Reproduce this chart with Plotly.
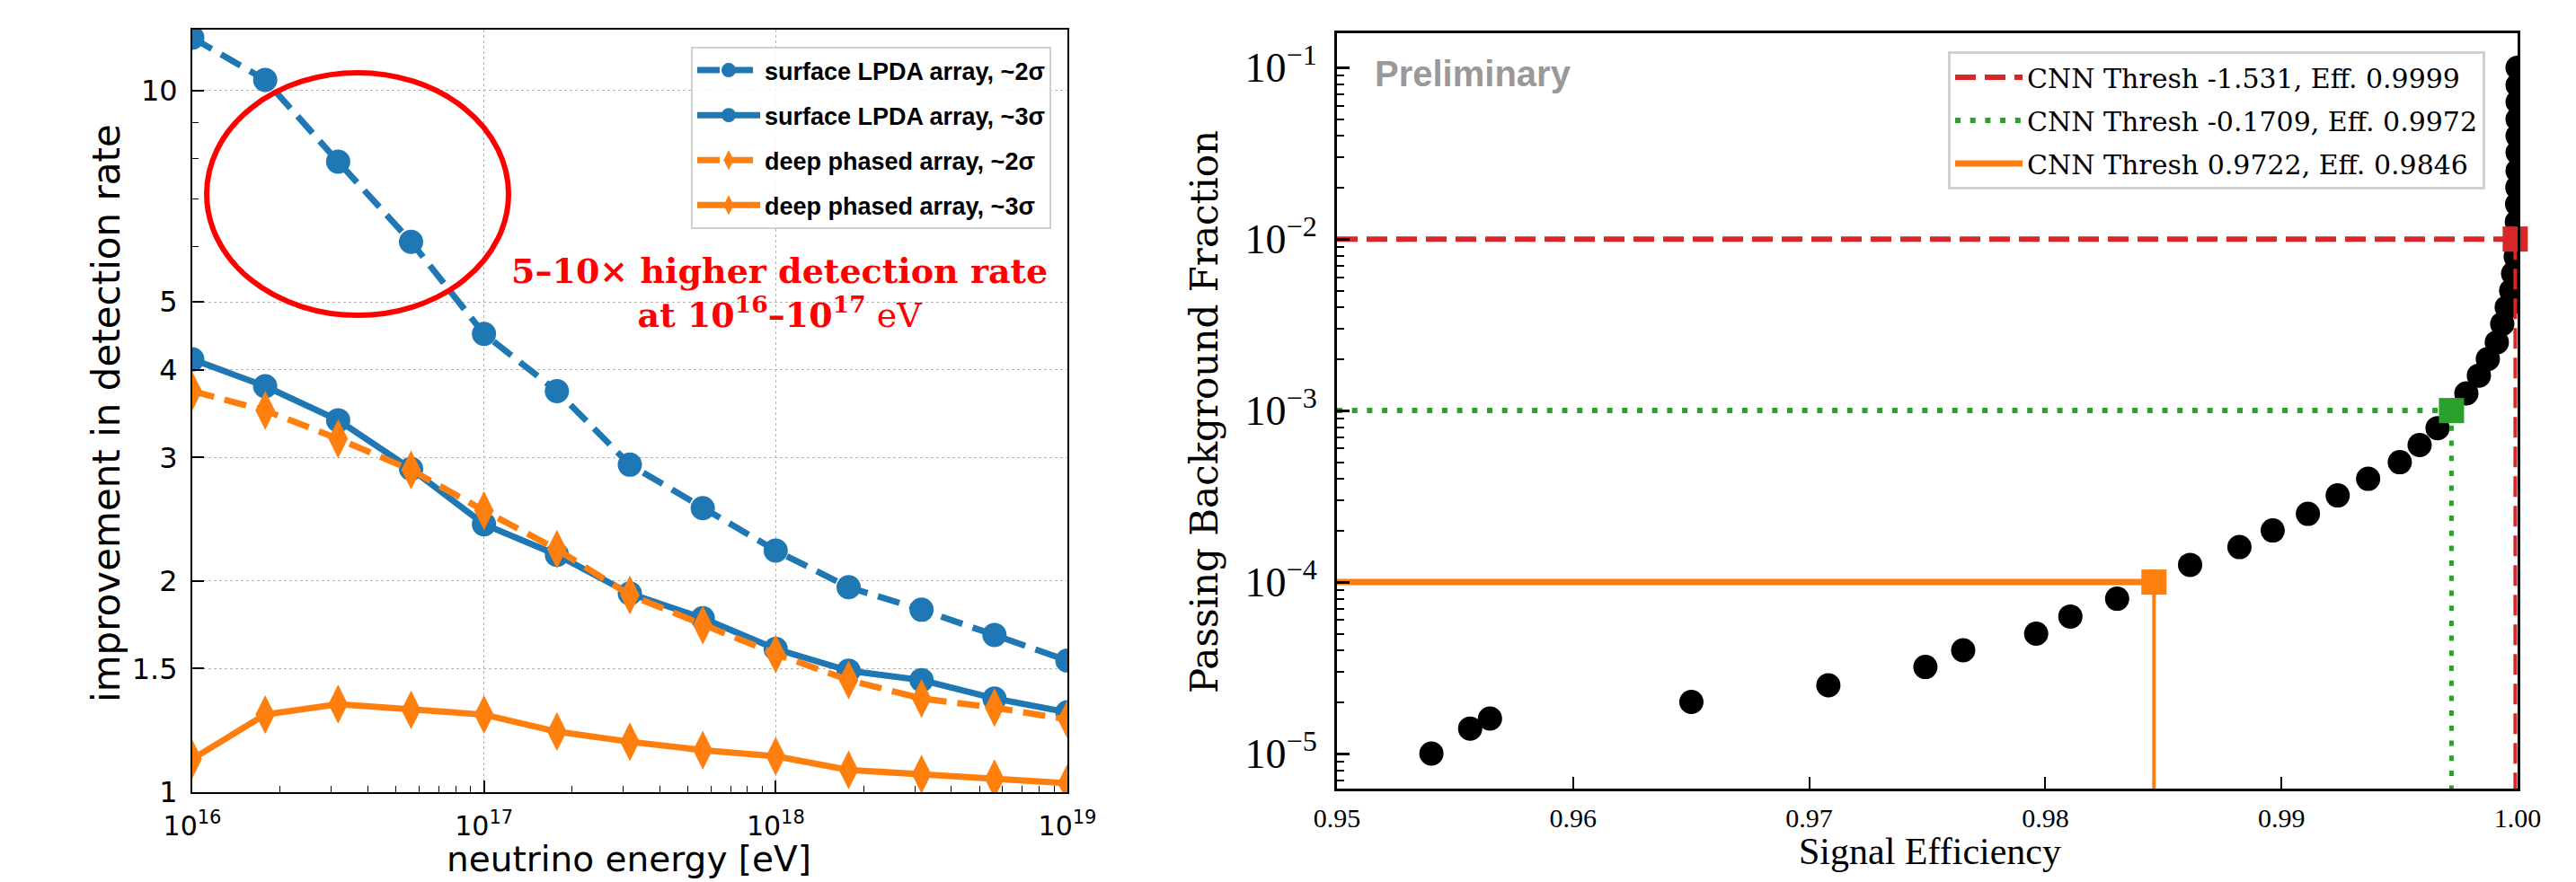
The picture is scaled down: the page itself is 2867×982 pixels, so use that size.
import plotly.graph_objects as go

W, H = 2867, 982

# ---------------- left panel data ----------------
energy_eV = [1e16, 1.778e16, 3.162e16, 5.623e16, 1e17, 1.778e17, 3.162e17, 5.623e17,
             1e18, 1.778e18, 3.162e18, 5.623e18, 1e19]
energy_ticks = [1e16, 1e17, 1e18, 1e19]
energy_ticktext = ["10<sup>16</sup>", "10<sup>17</sup>", "10<sup>18</sup>", "10<sup>19</sup>"]
improve_ticks = [1, 1.5, 2, 3, 4, 5, 10]
improve_ticktext = ["1", "1.5", "2", "3", "4", "5", "10"]

surface_2sigma = [11.9, 10.36, 7.92, 6.09, 4.50, 3.73, 2.93, 2.54, 2.21, 1.96, 1.82, 1.675, 1.54]
surface_3sigma = [4.14, 3.79, 3.39, 2.89, 2.41, 2.18, 1.92, 1.77, 1.60, 1.49, 1.445, 1.36, 1.30]
deep_2sigma = [3.73, 3.50, 3.19, 2.88, 2.52, 2.22, 1.91, 1.73, 1.574, 1.445, 1.36, 1.32, 1.27]
deep_3sigma = [1.115, 1.29, 1.335, 1.31, 1.29, 1.22, 1.18, 1.148, 1.125, 1.076, 1.061, 1.045, 1.030]

# ---------------- right panel data ----------------
signal_eff = [0.95400, 0.95564, 0.95648, 0.96501, 0.97081, 0.97492, 0.97652, 0.97961,
              0.98106, 0.98304, 0.98460, 0.98613, 0.98822, 0.98963, 0.99112, 0.99238,
              0.99367, 0.99501, 0.99585, 0.99661, 0.99720, 0.99783, 0.99836, 0.99874,
              0.99912, 0.99935, 0.99954, 0.99973, 0.99981, 0.99992, 0.99990, 0.99997,
              0.99998, 0.99999, 1.0, 1.0, 1.0, 1.0, 1.0, 1.0, 1.0]
bkg_frac = [1.0e-5, 1.4e-5, 1.6e-5, 2.0e-5, 2.5e-5, 3.2e-5, 4.0e-5, 5.0e-5,
            6.3e-5, 8.0e-5, 1.0e-4, 1.26e-4, 1.6e-4, 2.0e-4, 2.5e-4, 3.2e-4,
            4.0e-4, 5.0e-4, 6.3e-4, 7.9e-4, 1.0e-3, 1.26e-3, 1.6e-3, 2.0e-3,
            2.5e-3, 3.2e-3, 4.0e-3, 5.0e-3, 6.3e-3, 7.9e-3, 1.0e-2, 1.26e-2,
            1.6e-2, 2.0e-2, 2.5e-2, 3.2e-2, 4.0e-2, 5.0e-2, 6.3e-2, 7.9e-2, 1.0e-1]

thresh_labels = ["CNN Thresh -1.531, Eff. 0.9999",
                 "CNN Thresh -0.1709, Eff. 0.9972",
                 "CNN Thresh 0.9722, Eff. 0.9846"]
thresh_eff = [0.9999, 0.9972, 0.9846]
thresh_frac = [1e-2, 1e-3, 1e-4]

eff_ticks = [0.95, 0.96, 0.97, 0.98, 0.99, 1.00]
eff_ticktext = ["0.95", "0.96", "0.97", "0.98", "0.99", "1.00"]
frac_ticks = [1e-5, 1e-4, 1e-3, 1e-2, 1e-1]
frac_ticktext = ["10<sup>−5</sup>", "10<sup>−4</sup>", "10<sup>−3</sup>", "10<sup>−2</sup>", "10<sup>−1</sup>"]

BLUE = "#1f77b4"
ORANGE = "#ff7f0e"
RED = "#d62728"
GREEN = "#2ca02c"

fig = go.Figure()

# ---------- left panel traces ----------
left_series = [
    ("surface LPDA array, ~2σ", surface_2sigma, BLUE, "25px,12px", "circle", 27),
    ("surface LPDA array, ~3σ", surface_3sigma, BLUE, "solid", "circle", 27),
    ("deep phased array, ~2σ", deep_2sigma, ORANGE, "25px,12px", "diamond-tall", 31),
    ("deep phased array, ~3σ", deep_3sigma, ORANGE, "solid", "diamond-tall", 31),
]
for i, (name, vals, col, dash, sym, msize) in enumerate(left_series):
    fig.add_trace(go.Scatter(
        x=energy_eV, y=vals, name=name, mode="lines+markers",
        line=dict(color=col, width=7, dash=dash),
        marker=dict(color=col, symbol=sym, size=msize, line=dict(width=0)),
        xaxis="x", yaxis="y", legend="legend", legendgroup=f"l{i}",
    ))

# ---------- right panel traces ----------
fig.add_trace(go.Scatter(
    x=signal_eff, y=bkg_frac, mode="markers", showlegend=False,
    marker=dict(color="black", size=27, line=dict(width=0)),
    xaxis="x2", yaxis="y2",
))

y_bottom = 10 ** -5.204
styles = [(RED, "23px,10px", 6, 4), (GREEN, "6px,10.7px", 6, 5), (ORANGE, "solid", 7, 4)]
for i, (lab, ef, fr) in enumerate(zip(thresh_labels, thresh_eff, thresh_frac)):
    col, dash, wh, wv = styles[i]
    fig.add_trace(go.Scatter(
        x=[0.95, ef], y=[fr, fr], mode="lines", name=lab,
        line=dict(color=col, width=wh, dash=dash),
        xaxis="x2", yaxis="y2", legend="legend2", legendgroup=f"r{i}",
    ))
    fig.add_trace(go.Scatter(
        x=[ef, ef], y=[fr, y_bottom], mode="lines", showlegend=False,
        line=dict(color=col, width=wv, dash=dash),
        xaxis="x2", yaxis="y2", legendgroup=f"r{i}",
    ))
    fig.add_trace(go.Scatter(
        x=[ef], y=[fr], mode="markers", showlegend=False,
        marker=dict(color=col, symbol="square", size=28, line=dict(width=0)),
        xaxis="x2", yaxis="y2", legendgroup=f"r{i}", cliponaxis=False,
    ))

def px_x(p):
    return p / W

def px_y(p):
    return 1 - p / H

minor_energy = [m * 10 ** e for e in (16, 17, 18) for m in range(2, 10)]
minor_frac = [m * 10.0 ** e for e in (-6, -5, -4, -3, -2, -1) for m in range(2, 10)]

# left axes pixel box
LX0, LX1, LY0, LY1 = 214, 1188, 33, 882

fig.update_layout(
    width=W, height=H,
    margin=dict(l=0, r=0, t=0, b=0, autoexpand=False),
    paper_bgcolor="white", plot_bgcolor="white",
    font=dict(family="DejaVu Sans", color="black"),
    xaxis=dict(
        domain=[px_x(LX0), px_x(LX1)], anchor="y", type="log", range=[16, 19],
        tickvals=energy_ticks, ticktext=energy_ticktext,
        ticks="inside", ticklen=13, tickwidth=1.5, tickcolor="black",
        showline=True, linecolor="black", linewidth=2, mirror=True,
        showgrid=True, gridcolor="#b5b5b5", griddash="dot", gridwidth=1,
        zeroline=False, tickfont=dict(family="DejaVu Sans", size=30, color="black"),
        ticklabelstandoff=10, automargin=False,
        minor=dict(tickvals=minor_energy, ticks="inside", ticklen=7, tickwidth=1.2,
                   tickcolor="black", showgrid=False),
    ),
    yaxis=dict(
        domain=[px_y(LY1), px_y(LY0)], anchor="x", type="log", range=[0, 1.087],
        tickvals=improve_ticks, ticktext=improve_ticktext,
        ticks="inside", ticklen=13, tickwidth=1.5, tickcolor="black",
        showline=True, linecolor="black", linewidth=2, mirror=True,
        showgrid=True, gridcolor="#b5b5b5", griddash="dot", gridwidth=1,
        zeroline=False, tickfont=dict(family="DejaVu Sans", size=32, color="black"),
        ticklabelstandoff=8, automargin=False,
        minor=dict(tickvals=[6, 7, 8, 9], ticks="inside", ticklen=7, tickwidth=1.2,
                   tickcolor="black", showgrid=False),
    ),
    xaxis2=dict(
        domain=[px_x(1488), px_x(2802)], anchor="y2", range=[0.95, 1.0],
        tickvals=eff_ticks, ticktext=eff_ticktext,
        ticks="inside", ticklen=13, tickwidth=2, tickcolor="black",
        showline=True, linecolor="black", linewidth=3, mirror=True,
        showgrid=False, zeroline=False, automargin=False,
        tickfont=dict(family="Liberation Serif", size=30, color="black"),
        ticklabelstandoff=4,
    ),
    yaxis2=dict(
        domain=[px_y(878), px_y(37)], anchor="x2", type="log", range=[-5.204, -0.80],
        tickvals=frac_ticks, ticktext=frac_ticktext,
        ticks="inside", ticklen=14, tickwidth=2.5, tickcolor="black",
        showline=True, linecolor="black", linewidth=3, mirror=True,
        showgrid=False, zeroline=False, automargin=False,
        tickfont=dict(family="Liberation Serif", size=46, color="black"),
        ticklabelstandoff=10,
        minor=dict(tickvals=minor_frac, ticks="inside", ticklen=8, tickwidth=2,
                   tickcolor="black", showgrid=False),
    ),
    legend=dict(
        x=px_x(1170), xanchor="right", y=px_y(52), yanchor="top",
        bgcolor="rgba(255,255,255,0.85)", bordercolor="#d0d0d0", borderwidth=2,
        font=dict(family="Liberation Sans", size=27, color="black", weight="bold"),
        itemwidth=70, tracegroupgap=12, traceorder="grouped",
    ),
    legend2=dict(
        x=px_x(2766), xanchor="right", y=px_y(57), yanchor="top",
        bgcolor="rgba(255,255,255,0.85)", bordercolor="#d0d0d0", borderwidth=3,
        font=dict(family="DejaVu Serif", size=30, color="black"),
        itemwidth=75, tracegroupgap=6, traceorder="grouped",
    ),
    shapes=[dict(
        type="circle", xref="x domain", yref="y domain",
        x0=(230 - LX0) / (LX1 - LX0), x1=(566 - LX0) / (LX1 - LX0),
        y0=(LY1 - 351) / (LY1 - LY0), y1=(LY1 - 81) / (LY1 - LY0),
        line=dict(color="red", width=6), layer="above",
    )],
    annotations=[
        dict(text="improvement in detection rate", x=px_x(118), y=px_y(460),
             xref="paper", yref="paper", textangle=-90, showarrow=False,
             xanchor="center", yanchor="middle",
             font=dict(family="DejaVu Sans", size=42, color="black")),
        dict(text="neutrino energy [eV]", x=px_x(700), y=px_y(956),
             xref="paper", yref="paper", showarrow=False,
             xanchor="center", yanchor="middle",
             font=dict(family="DejaVu Sans", size=39, color="black")),
        dict(text="<b>5–10× higher detection rate</b><br><b>at 10<sup>16</sup>–10<sup>17</sup></b> eV",
             x=px_x(867), y=px_y(326), xref="paper", yref="paper", showarrow=False,
             xanchor="center", yanchor="middle", align="center",
             font=dict(family="DejaVu Serif", size=38, color="red")),
        dict(text="Signal Efficiency", x=px_x(2148), y=px_y(948),
             xref="paper", yref="paper", showarrow=False,
             xanchor="center", yanchor="middle",
             font=dict(family="Liberation Serif", size=42, color="black")),
        dict(text="Passing Background Fraction", x=px_x(1341), y=px_y(459),
             xref="paper", yref="paper", textangle=-90, showarrow=False,
             xanchor="center", yanchor="middle",
             font=dict(family="DejaVu Serif", size=42, color="black")),
        dict(text="<b>Preliminary</b>", x=px_x(1528), y=px_y(82),
             xref="paper", yref="paper", showarrow=False,
             xanchor="left", yanchor="middle",
             font=dict(family="Liberation Sans", size=40, color="#999999")),
    ],
)

fig.write_html("out.html", config={"displayModeBar": False},
               post_script="document.body.style.margin='0px';")
